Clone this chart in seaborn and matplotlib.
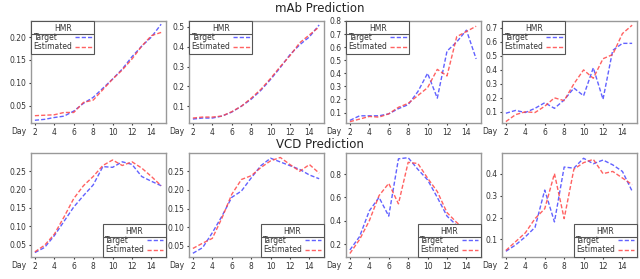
import numpy as np
import pandas as pd
import matplotlib
matplotlib.use("Agg")
import matplotlib.pyplot as plt
import matplotlib.lines as mlines
import seaborn as sns

days = list(range(2, 16))

# mAb prediction panels
mab1_target = [0.018, 0.020, 0.024, 0.027, 0.038, 0.055, 0.068, 0.088, 0.108, 0.130, 0.157, 0.180, 0.200, 0.228]
mab1_est    = [0.028, 0.029, 0.030, 0.035, 0.035, 0.057, 0.062, 0.085, 0.108, 0.128, 0.152, 0.180, 0.203, 0.210]
mab2_target = [0.035, 0.040, 0.040, 0.050, 0.070, 0.100, 0.135, 0.180, 0.235, 0.295, 0.360, 0.410, 0.450, 0.510]
mab2_est    = [0.040, 0.045, 0.045, 0.050, 0.072, 0.100, 0.140, 0.185, 0.240, 0.300, 0.355, 0.420, 0.460, 0.500]
mab3_target = [0.040, 0.075, 0.075, 0.075, 0.090, 0.130, 0.160, 0.260, 0.400, 0.210, 0.570, 0.640, 0.730, 0.510]
mab3_est    = [0.030, 0.050, 0.070, 0.065, 0.090, 0.140, 0.170, 0.230, 0.290, 0.430, 0.380, 0.680, 0.720, 0.760]
mab4_target = [0.090, 0.110, 0.095, 0.125, 0.165, 0.125, 0.185, 0.270, 0.215, 0.415, 0.190, 0.540, 0.590, 0.590]
mab4_est    = [0.030, 0.080, 0.100, 0.095, 0.140, 0.200, 0.180, 0.300, 0.400, 0.340, 0.480, 0.510, 0.660, 0.720]

# VCD prediction panels
vcd1_target = [0.028, 0.042, 0.074, 0.113, 0.152, 0.183, 0.212, 0.262, 0.260, 0.275, 0.268, 0.235, 0.222, 0.210]
vcd1_est    = [0.030, 0.048, 0.078, 0.125, 0.175, 0.210, 0.235, 0.265, 0.280, 0.265, 0.275, 0.258, 0.235, 0.210]
vcd2_target = [0.030, 0.045, 0.085, 0.130, 0.180, 0.197, 0.232, 0.265, 0.285, 0.275, 0.265, 0.255, 0.240, 0.230]
vcd2_est    = [0.043, 0.057, 0.070, 0.125, 0.188, 0.228, 0.238, 0.260, 0.278, 0.287, 0.268, 0.250, 0.268, 0.245]
vcd3_target = [0.150, 0.265, 0.485, 0.600, 0.440, 0.930, 0.940, 0.840, 0.750, 0.600, 0.440, 0.360, 0.300, 0.250]
vcd3_est    = [0.120, 0.240, 0.400, 0.615, 0.720, 0.545, 0.900, 0.890, 0.765, 0.650, 0.470, 0.385, 0.320, 0.270]
vcd4_target = [0.046, 0.075, 0.112, 0.155, 0.325, 0.180, 0.430, 0.425, 0.470, 0.445, 0.462, 0.440, 0.410, 0.320]
vcd4_est    = [0.050, 0.090, 0.130, 0.195, 0.240, 0.400, 0.195, 0.420, 0.450, 0.465, 0.400, 0.410, 0.380, 0.350]

panels = [
    (mab1_target, mab1_est, (0.012, 0.235), [0.05, 0.10, 0.15, 0.20], "upper left"),
    (mab2_target, mab2_est, (0.015, 0.53), [0.1, 0.2, 0.3, 0.4, 0.5], "upper left"),
    (mab3_target, mab3_est, (0.02, 0.80), [0.1, 0.2, 0.3, 0.4, 0.5, 0.6, 0.7, 0.8], "upper left"),
    (mab4_target, mab4_est, (0.02, 0.75), [0.1, 0.2, 0.3, 0.4, 0.5, 0.6, 0.7], "upper left"),
    (vcd1_target, vcd1_est, (0.016, 0.299), [0.05, 0.10, 0.15, 0.20, 0.25], "lower right"),
    (vcd2_target, vcd2_est, (0.02, 0.299), [0.05, 0.10, 0.15, 0.20, 0.25], "lower right"),
    (vcd3_target, vcd3_est, (0.09, 0.98), [0.2, 0.4, 0.6, 0.8], "lower right"),
    (vcd4_target, vcd4_est, (0.02, 0.494), [0.1, 0.2, 0.3, 0.4], "lower right"),
]

sns.set_style("white")
plt.rcParams['font.family'] = ['DejaVu Sans']

W, H = 640, 279
fig = plt.figure(figsize=(W / 100, H / 100), dpi=100)

lefts = [31, 189, 346, 502]
width = 135
rows = [(21, 123), (153, 257)]

palette = {"Target": "#4646ff", "Estimated": "#ff4646"}
legends = []

for i, (tgt, est, ylim, yticks, loc) in enumerate(panels):
    r, c = divmod(i, 4)
    top, bot = rows[r]
    ax = fig.add_axes([lefts[c] / W, 1 - bot / H, width / W, (bot - top) / H])
    df = pd.DataFrame({
        "Day": days * 2,
        "value": tgt + est,
        "series": ["Target"] * len(days) + ["Estimated"] * len(days),
    })
    sns.lineplot(data=df, x="Day", y="value", hue="series", palette=palette,
                 ax=ax, linewidth=1.0, alpha=0.85, legend=False)
    for ln in ax.get_lines():
        ln.set_dashes([3, 1.5])
    ax.set_xlim(1.6, 15.5)
    ax.set_ylim(*ylim)
    ax.set_xticks([2, 4, 6, 8, 10, 12, 14])
    ax.set_yticks(yticks)
    ax.set_yticklabels([f"{t:.2f}" if yticks[0] == 0.05 else f"{t:.1f}" for t in yticks])
    ax.tick_params(labelsize=5.5, length=1.5, pad=2, colors="#333333", left=True, bottom=True)
    ax.set_xlabel("")
    ax.set_ylabel("")
    for s in ax.spines.values():
        s.set_color("#999999")
        s.set_linewidth(1.0)
    ax.annotate("Day", xy=(0, 0), xycoords="axes fraction", xytext=(-3, -3),
                textcoords="offset points", ha="right", va="top", fontsize=5.5, color="#333333")
    handles = [mlines.Line2D([], [], color=palette["Target"], lw=1.0, dashes=[3, 1.5], alpha=0.85),
               mlines.Line2D([], [], color=palette["Estimated"], lw=1.0, dashes=[3, 1.5], alpha=0.85)]
    leg = ax.legend(handles, ["Target", "Estimated"], title="HMR", loc=loc,
                    markerfirst=False, fontsize=5.5, title_fontsize=5.5, fancybox=False,
                    framealpha=1, edgecolor="#555555", handlelength=2.2,
                    borderpad=0.35, labelspacing=0.05, handletextpad=0.3,
                    borderaxespad=0.0)
    leg.get_frame().set_linewidth(0.8)
    leg.get_title().set_color("#333333")
    for t in leg.get_texts():
        t.set_color("#333333")
    legends.append((ax, leg))

fig.text(0.5, 1 - 9 / H, "mAb Prediction", ha="center", va="center", fontsize=8.5, color="#222222")
fig.text(0.5, 1 - 145 / H, "VCD Prediction", ha="center", va="center", fontsize=8.5, color="#222222")

# Align legend labels to the left with handles in a common column
fig.canvas.draw()
renderer = fig.canvas.get_renderer()
for ax, leg in legends:
    texts = leg.get_texts()
    widths = [t.get_window_extent(renderer).width for t in texts]
    wmax = max(widths)
    col = leg._legend_handle_box.get_children()[0]
    col.align = "left"
    for row, w in zip(col.get_children(), widths):
        row.sep = row.sep + (wmax - w) * 72 / fig.dpi

fig.canvas.draw()
for ax, leg in legends:
    fb = leg.get_frame().get_window_extent(renderer)
    tb = leg.get_title().get_window_extent(renderer)
    yline = tb.y0 - 1.0
    inv = fig.transFigure.inverted()
    (x0, y0) = inv.transform((fb.x0, yline))
    (x1, _) = inv.transform((fb.x1, yline))
    fig.add_artist(mlines.Line2D([x0, x1], [y0, y0], color="#555555", lw=0.8, zorder=10))

fig.savefig("out.png", dpi=100)
